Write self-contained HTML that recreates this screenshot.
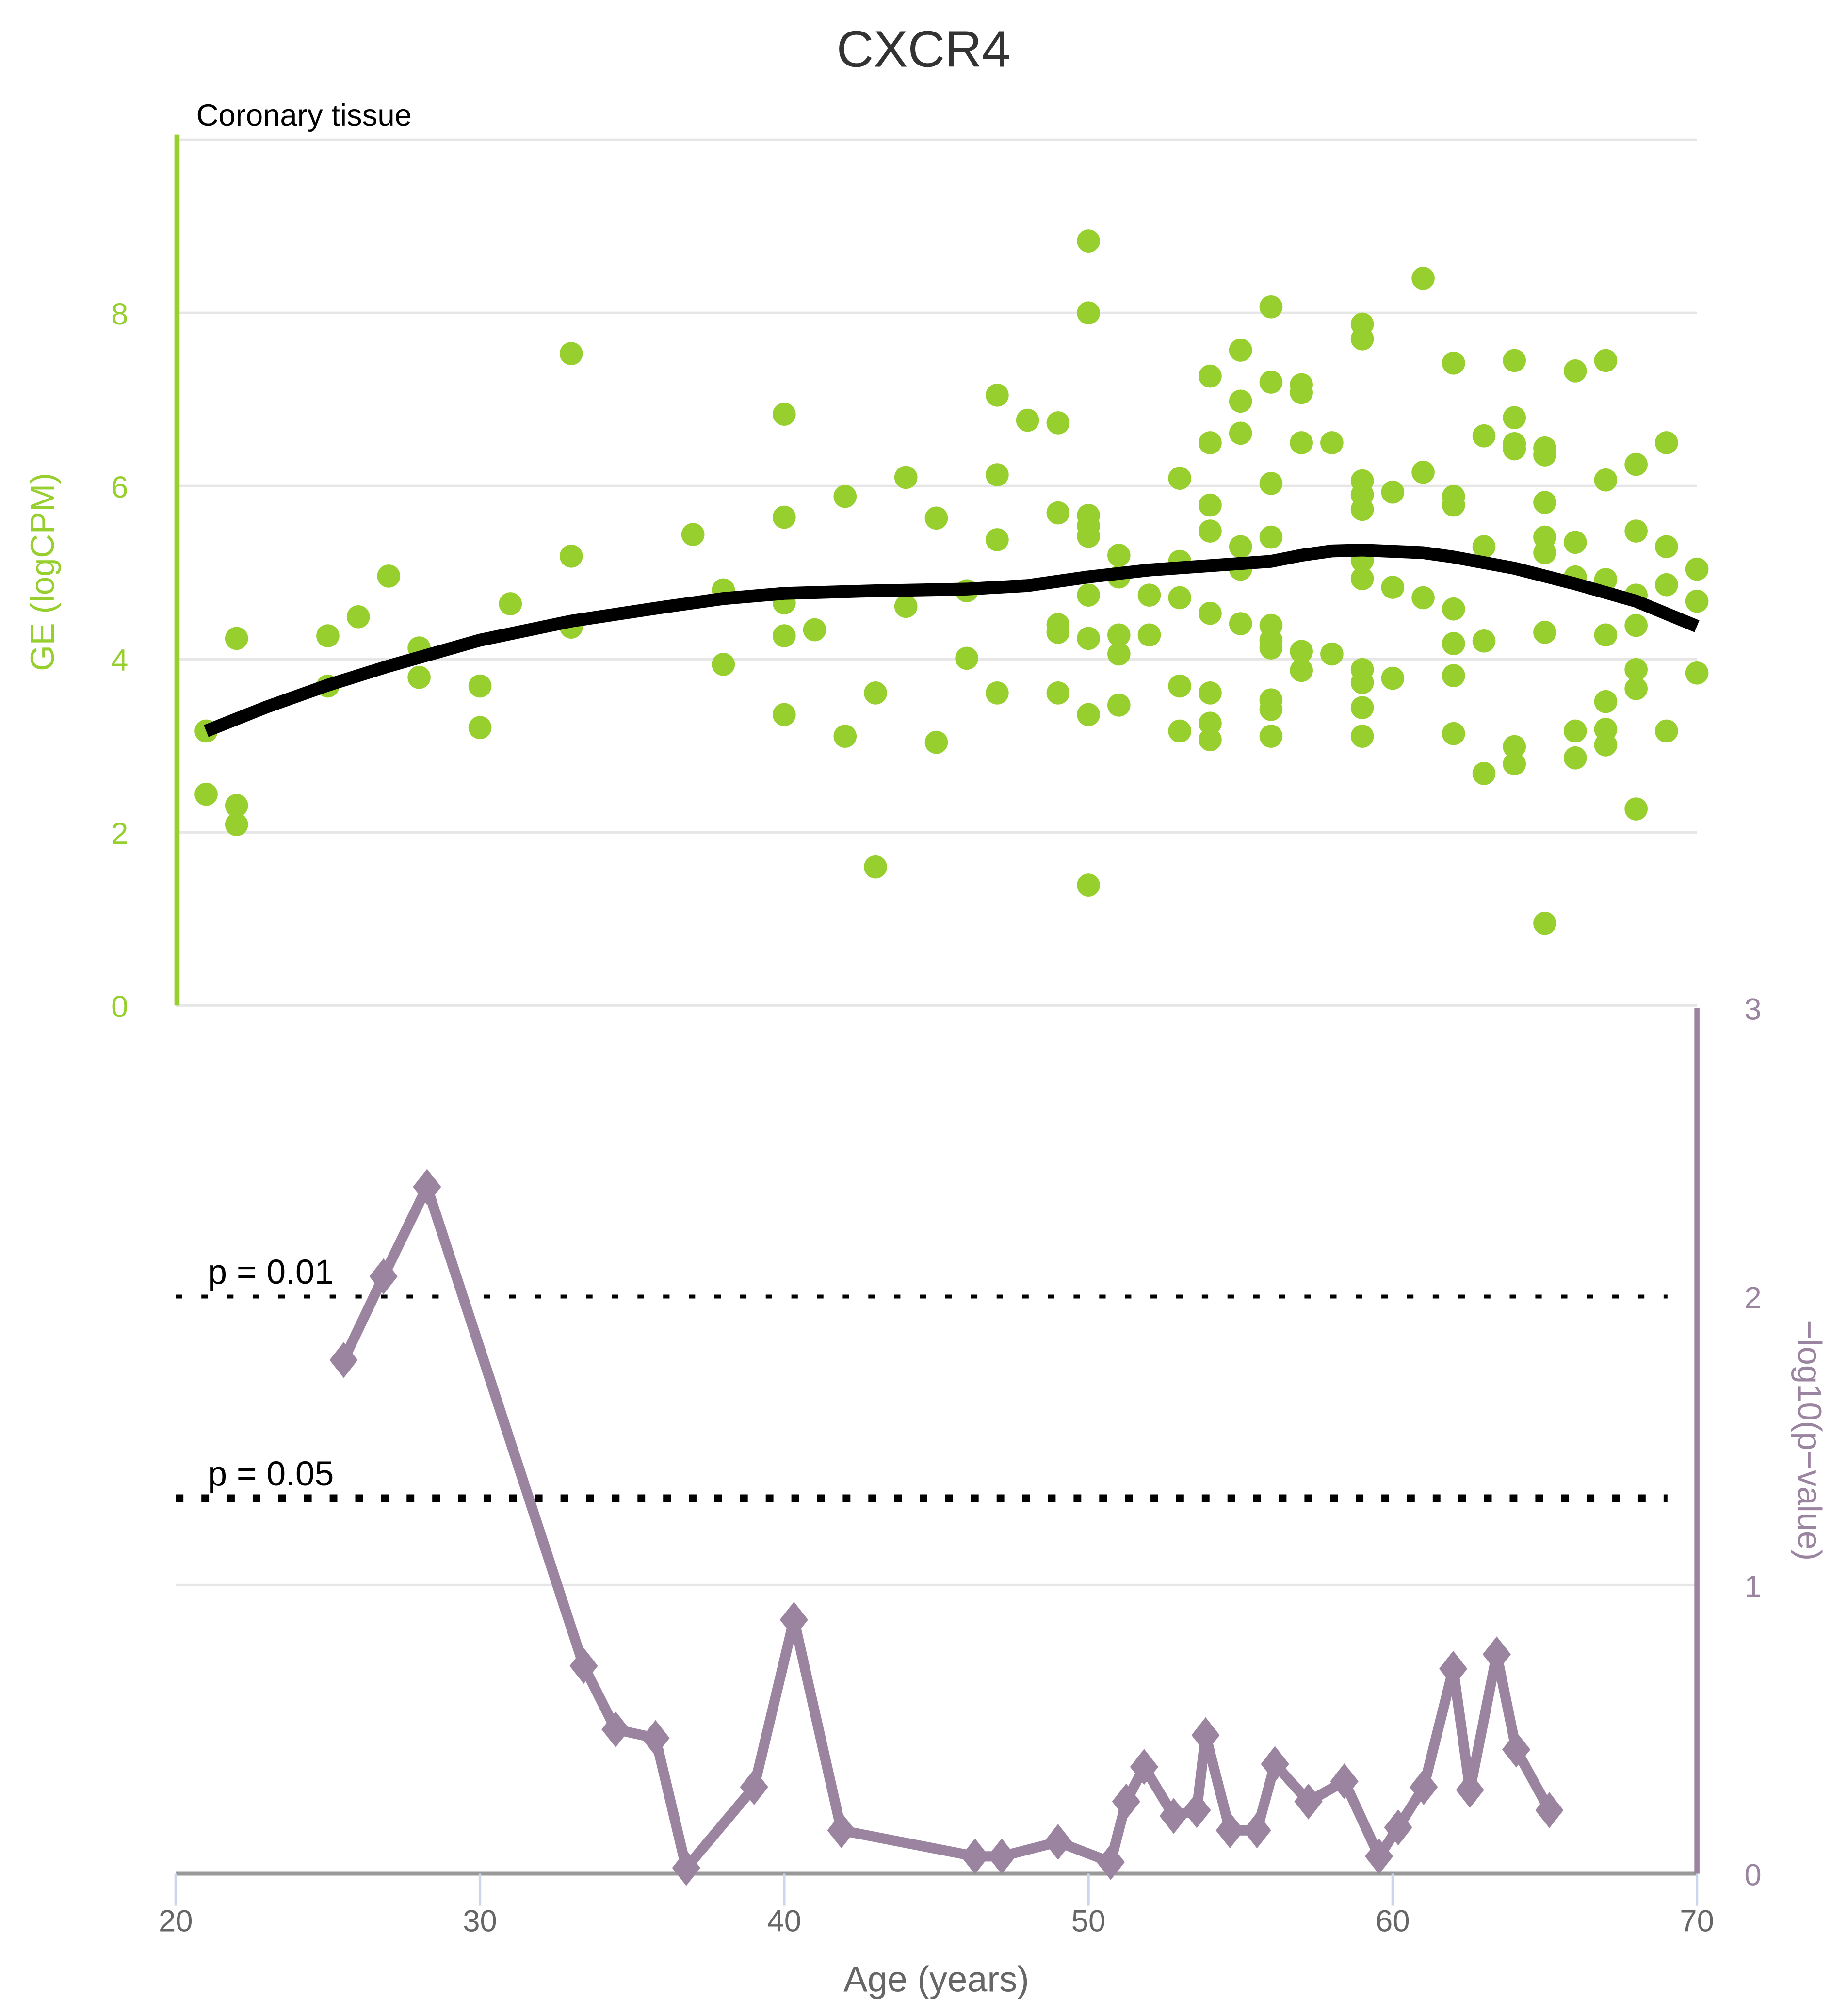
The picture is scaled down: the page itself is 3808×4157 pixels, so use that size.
<!DOCTYPE html>
<html><head><meta charset="utf-8"><style>
html,body{margin:0;padding:0;background:#fff;}
svg{display:block;}
text{font-family:"Liberation Sans",sans-serif;}
</style></head><body>
<svg id="chart" width="3808" height="4157" viewBox="0 0 1440 1572" preserveAspectRatio="none" xmlns="http://www.w3.org/2000/svg"></svg>
<script>
const scatterAges=[21,21,22,22,22,25,25,26,27,28,28,30,30,31,33,33,33,37,38,38,40,40,40,40,40,41,42,42,43,43,44,44,45,45,46,46,47,47,47,47,48,49,49,49,49,49,50,50,50,50,50,50,50,50,50,51,51,51,51,51,52,52,53,53,53,53,53,54,54,54,54,54,54,54,54,55,55,55,55,55,55,56,56,56,56,56,56,56,56,56,56,57,57,57,57,57,58,58,59,59,59,59,59,59,59,59,59,59,59,60,60,60,61,61,61,62,62,62,62,62,62,62,63,63,63,63,64,64,64,64,64,64,65,65,65,65,65,65,65,66,66,66,66,66,67,67,67,67,67,67,67,68,68,68,68,68,68,68,69,69,69,69,70,70,70];
const scatterValues=[3.17,2.44,4.24,2.31,2.09,4.27,3.69,4.49,4.96,4.13,3.79,3.69,3.21,4.64,7.53,5.19,4.37,5.44,4.8,3.94,6.83,5.64,4.65,4.27,3.36,4.34,5.88,3.11,3.61,1.6,6.10,4.61,5.63,3.04,4.79,4.01,7.05,6.13,5.38,3.61,6.76,6.73,5.69,4.4,4.31,3.61,8.83,8.0,5.66,5.54,5.42,4.74,4.24,3.36,1.39,5.2,4.95,4.28,4.06,3.47,4.74,4.28,6.09,5.13,4.71,3.69,3.17,7.27,6.5,5.78,5.48,4.53,3.61,3.26,3.07,7.57,6.98,6.61,5.3,5.04,4.41,8.07,7.2,6.03,5.41,4.39,4.22,4.13,3.53,3.42,3.11,7.17,7.08,6.5,4.09,3.87,6.5,4.06,7.87,7.7,6.06,5.9,5.73,5.14,4.93,3.88,3.73,3.44,3.11,5.93,4.83,3.78,8.4,6.16,4.71,7.42,5.88,5.78,4.58,4.18,3.81,3.14,6.58,5.3,4.21,2.68,7.45,6.79,6.49,6.43,2.99,2.79,6.44,6.36,5.81,5.41,5.23,4.31,0.95,7.33,5.35,4.95,3.17,2.86,7.45,6.07,4.92,4.28,3.51,3.19,3.01,6.25,5.48,4.74,4.39,3.88,3.66,2.27,6.5,5.3,4.86,3.17,5.04,4.67,3.84];
const trendAges=[21,23,25,27,30,33,36,38,40,43,46,48,50,52,54,56,57,58,59,61,62,64,66,68,70];
const trendValues=[3.17,3.45,3.7,3.92,4.22,4.44,4.6,4.7,4.76,4.79,4.81,4.85,4.95,5.03,5.08,5.13,5.2,5.25,5.26,5.23,5.18,5.05,4.87,4.67,4.38];
const pAges=[25.52,26.83,28.26,33.41,34.46,35.77,36.78,39.01,40.32,41.88,46.27,47.15,49.0,50.73,51.24,51.83,52.8,53.56,53.85,54.65,55.54,56.13,57.23,58.41,59.55,60.18,61.02,61.99,62.54,63.42,64.06,65.15];
const pValues=[1.78,2.07,2.38,0.72,0.50,0.47,0.02,0.30,0.88,0.15,0.06,0.06,0.11,0.04,0.25,0.37,0.2,0.22,0.48,0.15,0.15,0.38,0.25,0.32,0.06,0.16,0.30,0.71,0.29,0.76,0.43,0.22];
const xTicks=[20,30,40,50,60,70];
const geTicks=[0,2,4,6,8];
const pTicks=[0,1,2,3];
const thresholdLabels=["p = 0.01","p = 0.05"];
const thresholdValues=[2,1.30103];

const NS="http://www.w3.org/2000/svg";
const svg=document.getElementById('chart');
const X=a=>137+(a-20)*(1323-137)/50;
const YG=v=>784-v*67.5;
const YP=v=>1461-v*225;
function mk(tag,attrs,parent){const e=document.createElementNS(NS,tag);for(const k in attrs)e.setAttribute(k,attrs[k]);(parent||svg).appendChild(e);return e;}
const GREEN="#97cf2f", PURPLE="#9b84a0";

let t=mk('text',{x:720,y:52,'text-anchor':'middle','font-size':40,fill:'#333'});t.textContent='CXCR4';


t=mk('text',{x:153,y:98,'font-size':24,fill:'#000'});t.textContent='Coronary tissue';



// top grid
[2,4,6,8,10].forEach(v=>{const l=mk('line',{x1:137,x2:1323,y1:YG(v),y2:YG(v),stroke:'#e6e6e6','stroke-width':2});

});
let l=mk('line',{x1:137,x2:1323,y1:784,y2:784,stroke:'#e6e6e6','stroke-width':2});


geTicks.forEach(v=>{const e=mk('text',{x:100,y:YG(v)+9,'text-anchor':'end','font-size':24,fill:GREEN});e.textContent=v;

});
l=mk('line',{x1:138,x2:138,y1:105,y2:784,stroke:GREEN,'stroke-width':4});


t=mk('text',{x:42,y:446,'text-anchor':'middle','font-size':26,fill:GREEN,transform:'rotate(-90 42 446)'});t.textContent='GE (logCPM)';



// scatter
scatterAges.forEach((a,i)=>{const c=mk('circle',{cx:X(a),cy:YG(scatterValues[i]),r:9,fill:GREEN});

});
let d=trendAges.map((a,i)=>(i?'L':'M')+X(a)+','+YG(trendValues[i])).join(' ');
let p=mk('path',{d:d,fill:'none',stroke:'#000','stroke-width':10,'stroke-linejoin':'round'});



// bottom panel
l=mk('line',{x1:137,x2:1323,y1:YP(1),y2:YP(1),stroke:'#e6e6e6','stroke-width':2});


thresholdValues.forEach((v,i)=>{
 const ln=mk('line',{x1:137,x2:1300,y1:YP(v),y2:YP(v),stroke:'#000','stroke-width':i?6:3,'stroke-dasharray':i?'6 14':'5 15'});
 
 
 const tx=mk('text',{x:162,y:YP(v)-10,'font-size':27,fill:'#000'});tx.textContent=thresholdLabels[i];
 
 
});
l=mk('line',{x1:137,x2:1323,y1:1461,y2:1461,stroke:'#999','stroke-width':3});


xTicks.forEach(v=>{const tk=mk('line',{x1:X(v),x2:X(v),y1:1461,y2:1486,stroke:'#ccd6eb','stroke-width':2});


const e=mk('text',{x:X(v),y:1506,'text-anchor':'middle','font-size':24,fill:'#666'});e.textContent=v;

});
t=mk('text',{x:730,y:1553,'text-anchor':'middle','font-size':28,fill:'#666'});t.textContent='Age (years)';


l=mk('line',{x1:1323,x2:1323,y1:786,y2:1461,stroke:PURPLE,'stroke-width':4});


pTicks.forEach(v=>{const e=mk('text',{x:1360,y:YP(v)+9,'font-size':24,fill:PURPLE});e.textContent=v;

});
t=mk('text',{x:1402,y:1123,'text-anchor':'middle','font-size':26,fill:PURPLE,transform:'rotate(90 1402 1123)'});t.textContent='−log10(p−value)';


d=pAges.map((a,i)=>(i?'L':'M')+X(a)+','+YP(pValues[i])).join(' ');
p=mk('path',{d:d,fill:'none',stroke:PURPLE,'stroke-width':8,'stroke-linejoin':'round'});


pAges.forEach((a,i)=>{const cx=X(a),cy=YP(pValues[i]);
const m=mk('polygon',{points:`${cx},${cy-14} ${cx+11},${cy} ${cx},${cy+14} ${cx-11},${cy}`,fill:PURPLE});

});
</script>
</body></html>
